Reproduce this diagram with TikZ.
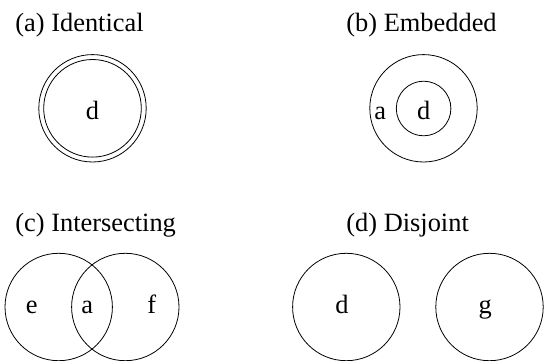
\documentclass[tikz,border=0pt]{standalone}
\usepackage{fontspec}
\setmainfont{Liberation Serif}
\usetikzlibrary{positioning}

\begin{document}
\begin{tikzpicture}[x=1pt,y=-1pt,line width=0.8pt,
        set/.style={draw,circle,inner sep=0pt,minimum size=107.4pt},
        caption/.style={anchor=base west,font=\fontsize{26.4}{31}\selectfont,inner sep=0pt},
        elem/.style={anchor=base,font=\fontsize{26.4}{31}\selectfont,inner sep=0pt}]
        \useasboundingbox (0,0) rectangle (544,361);
        % (a) identical
        \node[caption] (capa) at (15,31.7) {(a) Identical};
        \node[set] (outa) at (92.5,108.3) {};
        \node[set,minimum size=97.6pt] (ina) at (92.5,108.3) {};
        \node[elem] (da) at (92.5,120) {d};
        % (b) embedded
        \node[caption] (capb) at (346,31.7) {(b) Embedded};
        \node[set] (outb) at (423.5,108.3) {};
        \node[set,minimum size=54.6pt] (inb) at (423.6,108.5) {};
        \node[elem] (ab) at (380.3,120) {a};
        \node[elem] (db) at (423.6,120) {d};
        % (c) intersecting
        \node[caption] (capc) at (15,231.7) {(c) Intersecting};
        \node[set] (lc) at (58.7,307) {};
        \node[set] (rc) at (125.3,307) {};
        \node[elem] (ec) at (31.7,313.5) {e};
        \node[elem] (ac) at (87.3,313.5) {a};
        \node[elem] (fc) at (151.7,313.5) {f};
        % (d) disjoint
        \node[caption] (capd) at (346,231.7) {(d) Disjoint};
        \node[set] (ld) at (346.3,307) {};
        \node[set] (rd) at (489.5,307) {};
        \node[elem] (dd) at (342,313.5) {d};
        \node[elem] (gd) at (485.3,313.5) {g};
\end{tikzpicture}
\end{document}
